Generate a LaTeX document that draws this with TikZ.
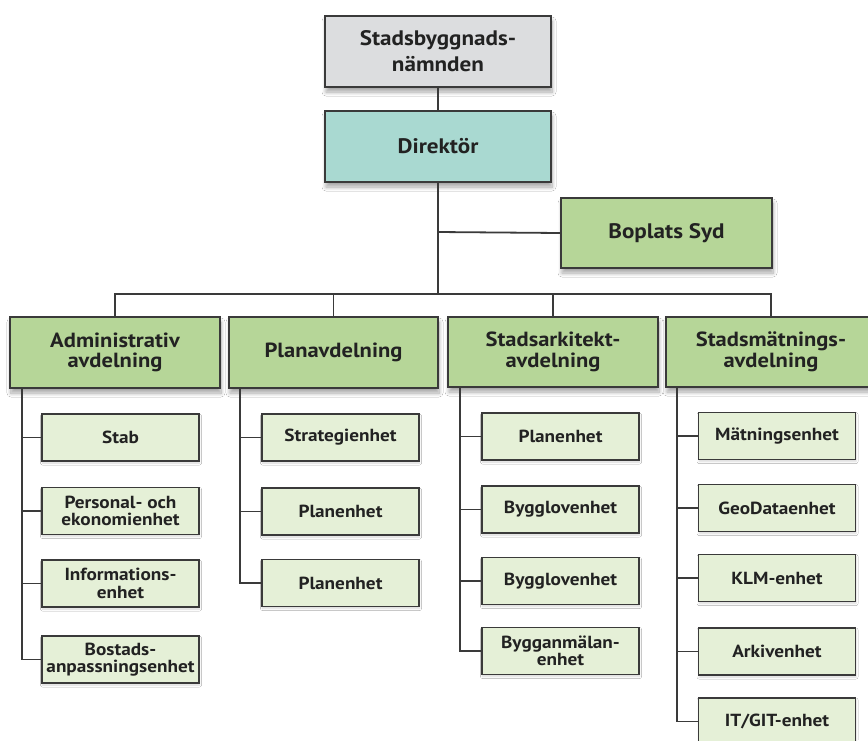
\documentclass[tikz,border=0pt]{standalone}
\usepackage{fontspec}
\setmainfont{PT Sans}[FakeStretch=1.1]
\usetikzlibrary{shadows.blur}
\definecolor{edge}{HTML}{3A3A3A}
\definecolor{txt}{HTML}{222222}
\definecolor{grayfill}{HTML}{DCDDDF}
\definecolor{tealfill}{HTML}{A9D9D1}
\definecolor{greenfill}{HTML}{B6D698}
\definecolor{lightfill}{HTML}{E5F0D7}
\tikzset{
  box/.style={draw=edge, line width=1.8pt, text=txt, align=center, inner sep=0pt, font=\bfseries},
  bigbox/.style={box, minimum width=226pt, minimum height=71pt, font=\bfseries\fontsize{21}{26}\selectfont,
     blur shadow={shadow xshift=1pt, shadow yshift=-5pt, shadow opacity=35, shadow blur steps=8, shadow blur radius=4pt}},
  deptbox/.style={box, fill=greenfill, minimum width=210pt, minimum height=71pt, font=\bfseries\fontsize{20.5}{20.5}\selectfont,
     blur shadow={shadow xshift=1pt, shadow yshift=-5pt, shadow opacity=35, shadow blur steps=8, shadow blur radius=4pt}},
  subbox/.style={box, fill=lightfill, line width=1.6pt, minimum width=157pt, minimum height=47pt, font=\bfseries\fontsize{17.5}{17.5}\selectfont,
     blur shadow={shadow xshift=0.5pt, shadow yshift=-2pt, shadow opacity=15, shadow blur steps=5, shadow blur radius=2pt}},
  conn/.style={draw=edge, line width=1.8pt},
}
\begin{document}
\begin{tikzpicture}[x=1pt,y=-1pt]
\useasboundingbox (0,0) rectangle (868,740);
\clip (0,0) rectangle (868,740);
\fill[white] (0,0) rectangle (868,740);
% top
\node[bigbox, fill=grayfill] (top) at (438,51.5) {Stadsbyggnads-\\nämnden};
\node[bigbox, fill=tealfill] (dir) at (438,146.5) {Direktör};
\node[bigbox, fill=greenfill, minimum width=211pt, minimum height=70pt] (bop) at (666.5,233) {Boplats Syd};
% departments
\node[deptbox] (adm) at (115,352.5) {Administrativ\\avdelning};
\node[deptbox, minimum width=209pt] (plan) at (333.5,352.5) {Planavdelning};
\node[deptbox, minimum height=70pt] (ark) at (553,352) {Stadsarkitekt-\\avdelning};
\node[deptbox, minimum height=70pt] (mat) at (771,352) {Stadsmätnings-\\avdelning};
% coordinates
\coordinate (trunk) at (438,232);
\coordinate (bus) at (438,294);
\coordinate (admx) at (22,0);
\coordinate (planx) at (240,0);
\coordinate (arkx) at (460,0);
\coordinate (matx) at (677,0);
% sub units
\node[subbox] (a1) at (120.5,437.5) {Stab};
\node[subbox] (a2) at (120.5,511) {Personal- och\\ekonomienhet};
\node[subbox] (a3) at (120.5,583.5) {Informations-\\enhet};
\node[subbox] (a4) at (120.5,659.5) {Bostads-\\anpassningsenhet};
\node[subbox] (p1) at (340.5,437.5) {Strategienhet};
\node[subbox] (p2) at (340.5,511.5) {Planenhet};
\node[subbox] (p3) at (340.5,583) {Planenhet};
\node[subbox] (k1) at (560.5,436.5) {Planenhet};
\node[subbox] (k2) at (560.5,509.5) {Bygglovenhet};
\node[subbox] (k3) at (560.5,581) {Bygglovenhet};
\node[subbox] (k4) at (560.5,651) {Bygganmälan-\\enhet};
\node[subbox] (m1) at (777,436) {Mätningsenhet};
\node[subbox] (m2) at (777,508) {GeoDataenhet};
\node[subbox] (m3) at (777,578) {KLM-enhet};
\node[subbox] (m4) at (777,651.5) {Arkivenhet};
\node[subbox] (m5) at (777,721.5) {IT/GIT-enhet};
% connectors
\draw[conn] (top) -- (dir);
\draw[conn] (dir) -- (bus);
\draw[conn] (trunk) -- (bop.west);
\draw[conn] (adm.north) |- (bus) -| (mat.north);
\draw[conn] (plan.north) -- (plan.north |- bus);
\draw[conn] (ark.north) -- (ark.north |- bus);
\draw[conn] (adm.south -| admx) |- (a4.west);
\draw[conn] (plan.south -| planx) |- (p3.west);
\draw[conn] (ark.south -| arkx) |- (k4.west);
\draw[conn] (mat.south -| matx) |- (m5.west);
\foreach \n in {a1,a2,a3}{\draw[conn] (\n.west) -- (\n.west -| admx);}
\foreach \n in {p1,p2}{\draw[conn] (\n.west) -- (\n.west -| planx);}
\foreach \n in {k1,k2,k3}{\draw[conn] (\n.west) -- (\n.west -| arkx);}
\foreach \n in {m1,m2,m3,m4}{\draw[conn] (\n.west) -- (\n.west -| matx);}
\end{tikzpicture}
\end{document}
